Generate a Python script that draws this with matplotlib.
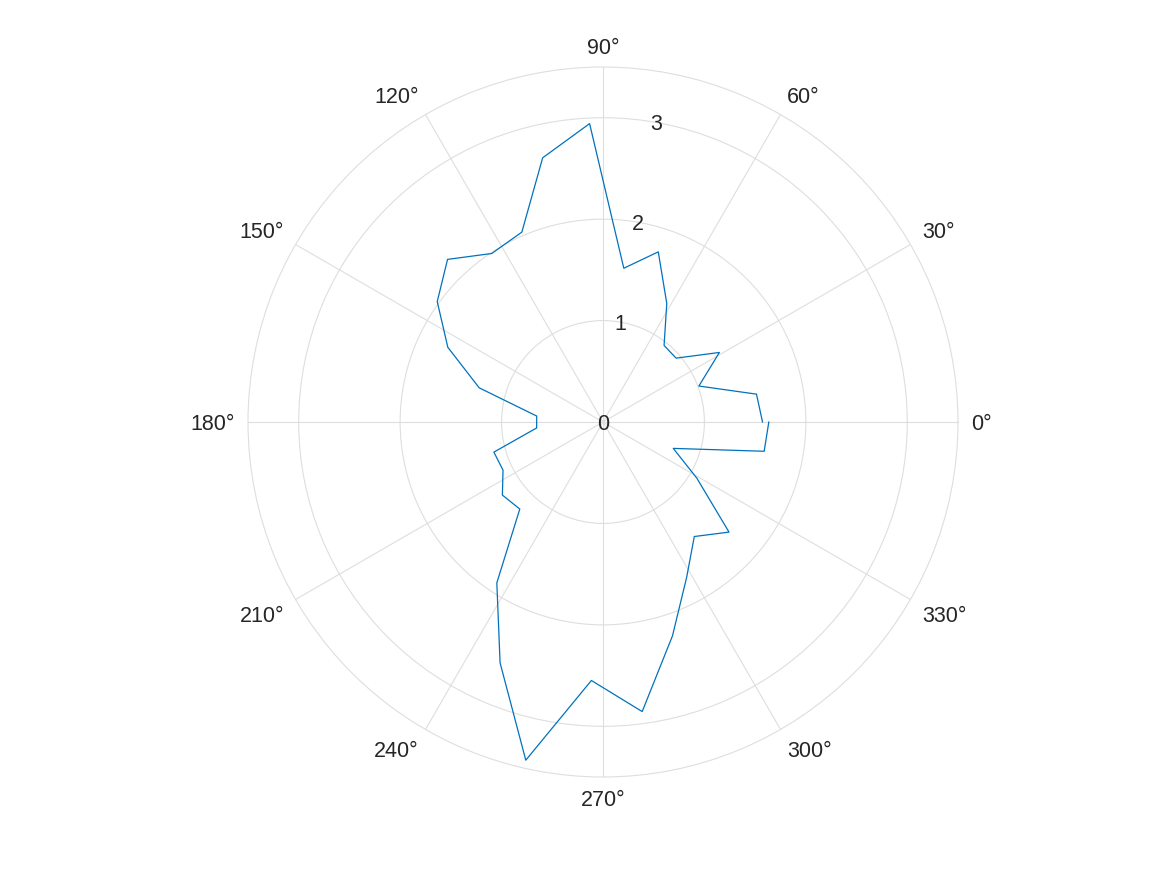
import numpy as np
import matplotlib.pyplot as plt

# angles (deg) of the 36 samples, first and last both at 0/360
theta_deg = [0, 10.29, 20.57, 30.86, 41.14, 51.43, 61.71, 72.0, 82.29, 92.57,
             102.86, 113.14, 123.43, 133.71, 144.0, 154.29, 164.57, 174.86,
             185.14, 195.43, 205.71, 216.0, 226.29, 236.57, 246.86, 257.14,
             267.43, 277.71, 288.0, 298.29, 308.57, 318.86, 329.14, 339.43,
             349.71, 360.0]
rho = [1.573, 1.538, 1.01, 1.337, 0.957, 0.966, 1.327, 1.764, 1.53, 2.945,
       2.672, 2.036, 1.991, 2.218, 2.02, 1.698, 1.266, 0.656,
       0.657, 1.116, 1.094, 1.226, 1.187, 1.90, 2.582, 3.42,
       2.551, 2.881, 2.217, 1.74, 1.444, 1.65, 1.077, 0.74,
       1.615, 1.635]

theta_ticks = [0, 30, 60, 90, 120, 150, 180, 210, 240, 270, 300, 330]
theta_labels = [f'{t}°' for t in theta_ticks]
r_ticks = [0, 1, 2, 3]
r_max = 3.5

grid_col = '#dedede'
text_col = '#262626'

plt.rcParams['font.family'] = ['Liberation Sans', 'DejaVu Sans']

fig = plt.figure(figsize=(11.67, 8.75), dpi=100)
ax = fig.add_axes([0.2125, 0.112, 0.6084, 0.8114], projection='polar')

ax.plot(np.deg2rad(theta_deg), rho, color='#0072BD', lw=0.9)

ax.set_ylim(0, r_max)
ax.set_yticks(r_ticks)
ax.set_yticklabels([str(r) for r in r_ticks])
ax.set_rlabel_position(80)
ax.set_xticks(np.deg2rad(theta_ticks))
ax.set_xticklabels(theta_labels)

ax.grid(True, color=grid_col, lw=0.8)
ax.spines['polar'].set_color(grid_col)
ax.spines['polar'].set_linewidth(0.8)
ax.tick_params(axis='x', labelsize=15.5, colors=text_col, pad=-1)
ax.tick_params(axis='y', labelsize=15.5, colors=text_col, pad=0)
for lab in ax.get_yticklabels():
    lab.set_horizontalalignment('center')
    lab.set_verticalalignment('center_baseline')

# MATLAB-style: align theta labels away from the circle
for t, lab in zip(theta_ticks, ax.get_xticklabels()):
    c, s = np.cos(np.deg2rad(t)), np.sin(np.deg2rad(t))
    lab.set_horizontalalignment('left' if c > 0.1 else ('right' if c < -0.1 else 'center'))
    lab.set_verticalalignment('baseline' if s > 0.1 else ('top' if s < -0.1 else 'center_baseline'))

fig.savefig('out.png', dpi=100)
